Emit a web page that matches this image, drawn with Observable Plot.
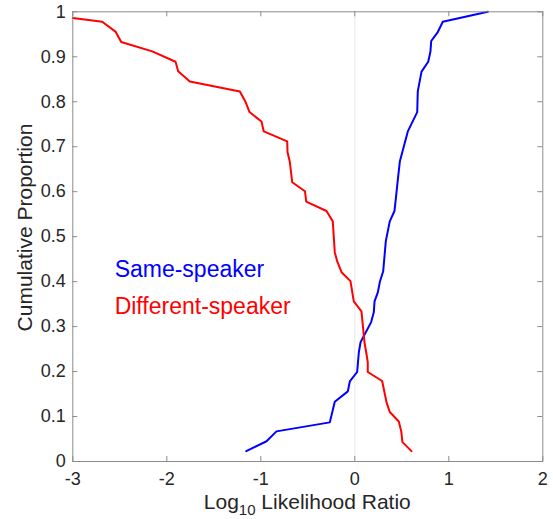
<!DOCTYPE html>
<html><head><meta charset="utf-8">
<script src="https://cdn.jsdelivr.net/npm/d3@7"></script>
<script src="https://cdn.jsdelivr.net/npm/@observablehq/plot@0.6"></script>
<style>
html,body{margin:0;padding:0;background:#fff;}
#chart svg{display:block;}
</style></head><body><div id="chart"></div>
<script>
// ---- data ----
const xTicks = [-3, -2, -1, 0, 1, 2];
const yTicks = [0, 0.1, 0.2, 0.3, 0.4, 0.5, 0.6, 0.7, 0.8, 0.9, 1];

const sameX = [-1.155, -0.939, -0.833, -0.266, -0.213, -0.074, -0.053, 0.025, 0.043, 0.061, 0.174, 0.202, 0.210, 0.245, 0.266, 0.302, 0.330, 0.372, 0.422, 0.444, 0.457, 0.479, 0.564, 0.664, 0.670, 0.710, 0.781, 0.805, 0.813, 0.883, 0.936, 1.415];
const sameY = [0.023, 0.045, 0.067, 0.087, 0.133, 0.156, 0.178, 0.199, 0.243, 0.265, 0.310, 0.332, 0.356, 0.376, 0.399, 0.423, 0.490, 0.534, 0.557, 0.599, 0.625, 0.667, 0.734, 0.777, 0.823, 0.867, 0.889, 0.912, 0.935, 0.955, 0.978, 1.000];

const diffX = [-3.000, -2.687, -2.546, -2.485, -2.155, -1.907, -1.879, -1.755, -1.223, -1.163, -1.120, -0.993, -0.968, -0.719, -0.716, -0.691, -0.666, -0.530, -0.517, -0.301, -0.234, -0.213, -0.187, -0.141, -0.046, -0.011, 0.071, 0.103, 0.121, 0.138, 0.138, 0.291, 0.337, 0.372, 0.468, 0.494, 0.507, 0.603];
const diffY = [0.986, 0.978, 0.956, 0.933, 0.912, 0.889, 0.868, 0.845, 0.823, 0.800, 0.777, 0.756, 0.734, 0.712, 0.688, 0.666, 0.621, 0.601, 0.578, 0.557, 0.534, 0.465, 0.445, 0.421, 0.401, 0.356, 0.334, 0.265, 0.243, 0.221, 0.199, 0.179, 0.132, 0.110, 0.089, 0.067, 0.043, 0.023];

const seriesNames = ["Same-speaker", "Different-speaker"];
const seriesColors = ["#0000ff", "#ff0000"];

// ---- layout ----
const W = 553, H = 519;
const mL = 72.3, mR = 10.7, mT = 11.3, mB = 58;
const plotW = W - mL - mR, plotH = H - mT - mB;
const font = '"Liberation Sans", Arial, Helvetica, sans-serif';
const axisColor = "#8c8c8c";
const textColor = "#262626";
const tickLen = 5;

const same = sameX.map((x, i) => ({x, y: sameY[i]}));
const diff = diffX.map((x, i) => ({x, y: diffY[i]}));

const chart = Plot.plot({
  width: W, height: H,
  marginLeft: mL, marginRight: mR, marginTop: mT, marginBottom: mB,
  style: {fontFamily: font, background: "#fff", overflow: "visible"},
  x: {domain: [-3, 2]},
  y: {domain: [0, 1]},
  marks: [
    Plot.ruleX([0], {stroke: "#e6e6e6", strokeWidth: 1}),
    Plot.line(same, {x: "x", y: "y", stroke: seriesColors[0], strokeWidth: 2}),
    Plot.line(diff, {x: "x", y: "y", stroke: seriesColors[1], strokeWidth: 2}),
    Plot.frame({stroke: axisColor, strokeWidth: 1}),
    Plot.tickX(xTicks, {x: d => d, stroke: axisColor, insetTop: plotH - tickLen}),
    Plot.tickX(xTicks, {x: d => d, stroke: axisColor, insetBottom: plotH - tickLen}),
    Plot.tickY(yTicks, {y: d => d, stroke: axisColor, insetRight: plotW - tickLen}),
    Plot.tickY(yTicks, {y: d => d, stroke: axisColor, insetLeft: plotW - tickLen}),
    Plot.axisX(xTicks, {tickSize: 0, tickPadding: 11, fontSize: 18, fill: textColor, label: null, tickFormat: d => String(d)}),
    Plot.axisY(yTicks, {tickSize: 0, tickPadding: 7, fontSize: 18, fill: textColor, label: null, tickFormat: d => String(+d.toFixed(1))}),
    Plot.text([seriesNames[0]], {x: () => -2.555, y: () => 0.410, text: d => d, fill: seriesColors[0], fontSize: 23, textAnchor: "start", lineAnchor: "bottom"}),
    Plot.text([seriesNames[1]], {x: () => -2.555, y: () => 0.329, text: d => d, fill: seriesColors[1], fontSize: 23, textAnchor: "start", lineAnchor: "bottom"})
  ]
});

document.getElementById("chart").appendChild(chart);

// axis titles (x title needs a subscript)
const sx = chart.scale("x"), sy = chart.scale("y");
const svg = d3.select(chart);
const xMid = (sx.range[0] + sx.range[1]) / 2;
const yMid = (sy.range[0] + sy.range[1]) / 2 - 8.6;

const xl = svg.append("text")
  .attr("x", xMid).attr("y", 509)
  .attr("text-anchor", "middle")
  .attr("font-family", font).attr("font-size", 21)
  .attr("fill", textColor)
  .style("white-space", "pre");
xl.append("tspan").text("Log");
xl.append("tspan").attr("font-size", 15).attr("dy", 6).text("10");
xl.append("tspan").attr("dy", -6).text(" Likelihood Ratio");

svg.append("text")
  .attr("transform", `translate(31.7,${yMid}) rotate(-90)`)
  .attr("text-anchor", "middle")
  .attr("font-family", font).attr("font-size", 21)
  .attr("fill", textColor)
  .text("Cumulative Proportion");
</script>
</body></html>
